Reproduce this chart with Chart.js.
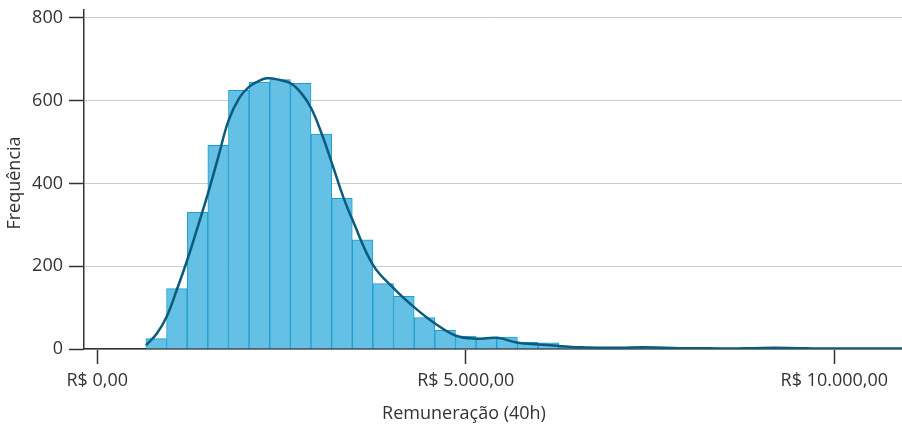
<!DOCTYPE html>
<html>
<head>
<meta charset="utf-8">
<script src="https://cdn.jsdelivr.net/npm/chart.js@4/dist/chart.umd.min.js"></script>
<style>
    html, body { margin: 0; padding: 0; background: #fff; }
    .wrap { width: 902px; height: 425px; }
</style>
</head>
<body>
<div class="wrap"><canvas id="chart"></canvas></div>
<script>
// histogram bins (centre of each 280 wide bin) and counts
const binCenters = [800, 1080, 1360, 1640, 1920, 2200, 2480, 2760, 3040, 3320,
    3600, 3880, 4160, 4440, 4720, 5000, 5280, 5560, 5840, 6120,
    6400, 6680, 6960, 7240, 7520, 7800, 8080, 8360, 8640, 8920,
    9200, 9480, 9760, 10040, 10320, 10600, 10880];
const binCounts = [25, 146, 330, 492, 625, 645, 651, 642, 519, 364,
    264, 158, 127, 76, 45, 31, 27, 29, 16, 15,
    4, 3, 2, 3, 4, 3, 2, 2, 1, 2,
    3, 3, 1, 1, 1, 1, 1];

// density curve
const kdeX = [661, 806, 941, 1077, 1221, 1349, 1502, 1642, 1783, 1936,
    2063, 2163, 2298, 2479, 2624, 2773, 2904, 3045, 3185, 3338,
    3465, 3745, 4026, 4306, 4587, 4867, 5148, 5428, 5708, 5989,
    6269, 6550, 6800, 7100, 7400, 7700, 8000, 8300, 8600, 8900,
    9200, 9500, 9800, 10100, 10400, 10920];
const kdeY = [9, 37, 78, 142, 215, 287, 376, 464, 553, 609,
    634, 645, 654, 650, 642, 617, 581, 520, 448, 367,
    311, 202, 146, 100, 61, 32, 25, 27, 15, 11,
    7, 4, 3, 3, 4, 3, 2, 2, 1, 2,
    3, 2, 1, 1, 1, 1];

const xTicks = [0, 5000, 10000];
const yTicks = [0, 200, 400, 600, 800];
const xTitle = 'Remuneração (40h)';
const yTitle = 'Frequência';

const textColor = '#333';
const font = {family: '"Open Sans"', size: 18};

function brl(v) {
    const s = String(Math.round(v)).replace(/\B(?=(\d{3})+(?!\d))/g, '.');
    return 'R$ ' + s + ',00';
}

const axisTitles = {
    id: 'axisTitles',
    afterDraw(chart) {
        const ctx = chart.ctx;
        ctx.save();
        ctx.font = '18px "Open Sans"';
        ctx.fillStyle = textColor;
        ctx.textAlign = 'center';
        ctx.textBaseline = 'middle';
        ctx.fillText(xTitle, 464, 414);
        ctx.translate(15, 183);
        ctx.rotate(-Math.PI / 2);
        ctx.fillText(yTitle, 0, 0);
        ctx.restore();
    }
};

const ctx = document.getElementById('chart');

new Chart(ctx, {
    type: 'bar',
    data: {
        datasets: [{
            type: 'line',
            data: kdeX.map((x, i) => ({x, y: kdeY[i]})),
            borderColor: '#0B5B7D',
            borderWidth: 2.5,
            pointRadius: 0,
            tension: 0.4,
            fill: false,
            order: 0,
        }, {
            type: 'bar',
            data: binCenters.map((x, i) => ({x, y: binCounts[i]})),
            backgroundColor: '#64C1E5',
            borderColor: '#1C9ED0',
            borderWidth: 1,
            barPercentage: 1,
            categoryPercentage: 1,
            grouped: false,
            order: 1,
        }]
    },
    options: {
        responsive: true,
        maintainAspectRatio: false,
        animation: false,
        layout: {padding: {top: 10, right: 0, left: 0, bottom: 0}},
        plugins: {
            legend: {display: false},
            tooltip: {enabled: false},
        },
        scales: {
            x: {
                type: 'linear',
                offset: false,
                min: -180,
                max: 10918,
                afterBuildTicks: (scale) => {
                    scale.ticks = xTicks.map(v => ({value: v}));
                },
                afterFit: (scale) => {
                    scale.height = 76;
                    scale.paddingLeft = 0;
                    scale.paddingRight = 0;
                },
                ticks: {
                    color: textColor,
                    font,
                    padding: 6,
                    maxRotation: 0,
                    callback: (v) => brl(v),
                },
                grid: {
                    offset: false,
                    drawOnChartArea: false,
                    drawTicks: true,
                    tickLength: 15,
                    tickColor: '#333',
                    tickWidth: 1.5,
                },
                border: {color: '#333', width: 1.5},
            },
            y: {
                type: 'linear',
                min: 0,
                max: 819,
                afterBuildTicks: (scale) => {
                    scale.ticks = yTicks.map(v => ({value: v}));
                },
                afterFit: (scale) => {
                    scale.width = 84;
                    scale.paddingTop = 0;
                    scale.paddingBottom = 0;
                },
                ticks: {
                    color: textColor,
                    font,
                    padding: 6,
                },
                grid: {
                    color: '#cccccc',
                    lineWidth: 1,
                    tickLength: 15,
                    tickColor: '#333',
                    tickWidth: 1.5,
                },
                border: {color: '#333', width: 1.5},
            }
        }
    },
    plugins: [axisTitles]
});
</script>
</body>
</html>
